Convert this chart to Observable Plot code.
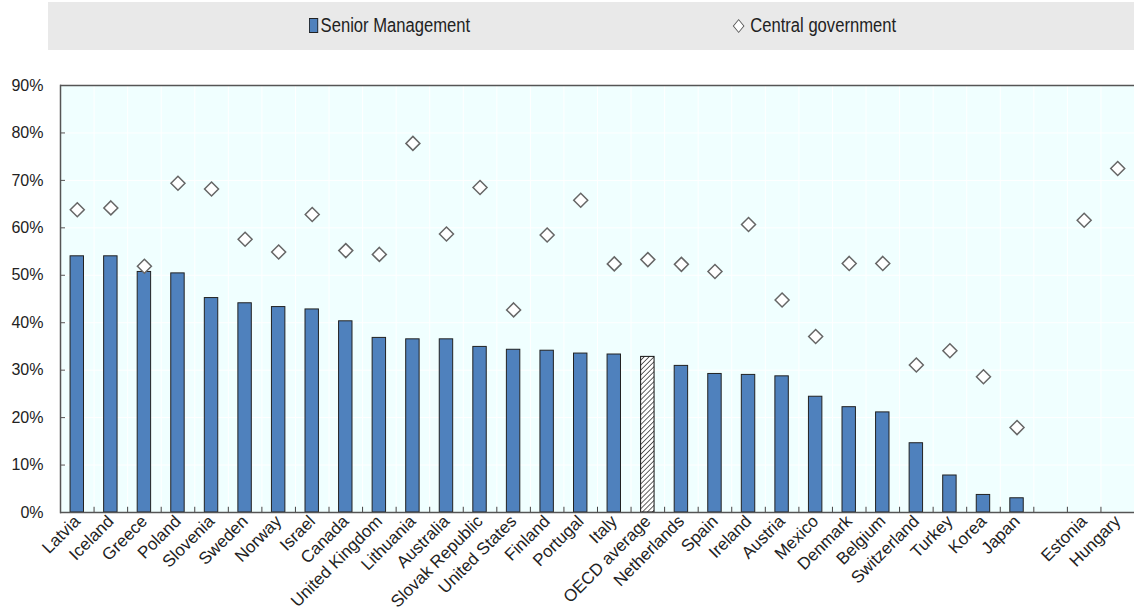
<!DOCTYPE html>
<html>
<head>
<meta charset="utf-8">
<script src="https://cdn.jsdelivr.net/npm/d3@7"></script>
<script src="https://cdn.jsdelivr.net/npm/@observablehq/plot@0.6"></script>
<style>
  body { margin: 0; background: #fff; font-family: "Liberation Sans", Arial, sans-serif; }
  #legend { position: absolute; left: 48px; top: 2px; width: 1086px; height: 48px; background: #e9e9e9; font-size: 20px; color: #222; }
  .item { position: absolute; top: 12px; display: flex; align-items: center; transform-origin: left center; transform: scaleX(0.83); }
  .sq { width: 9px; height: 13px; background: #4f81bd; border: 1px solid #222; margin-right: 3px; }
  .dm { width: 8px; height: 8px; border: 1.3px solid #555; transform: rotate(45deg); margin-right: 9px; margin-left: 3px; background: #fff; }
  #chart { position: absolute; left: 0; top: 50px; }
</style>
</head>
<body>
<div id="legend">
  <div class="item" style="left:261px"><div class="sq"></div><span>Senior Management</span></div>
  <div class="item" style="left:684px"><div class="dm"></div><span>Central government</span></div>
</div>
<div id="chart"></div>
<script>
const countries = ["Latvia","Iceland","Greece","Poland","Slovenia","Sweden","Norway","Israel","Canada","United Kingdom","Lithuania","Australia","Slovak Republic","United States","Finland","Portugal","Italy","OECD average","Netherlands","Spain","Ireland","Austria","Mexico","Denmark","Belgium","Switzerland","Turkey","Korea","Japan","Estonia","Hungary"];
const senior = [54.0,54.0,50.7,50.4,45.2,44.1,43.3,42.8,40.3,36.8,36.5,36.5,34.9,34.3,34.1,33.5,33.3,32.8,30.9,29.2,29.0,28.7,24.4,22.2,21.1,14.6,7.8,3.7,3.0,null,null];
const central = [63.8,64.2,51.9,69.4,68.2,57.6,54.9,62.8,55.2,54.4,77.8,58.7,68.5,42.7,58.5,65.8,52.4,53.3,52.3,50.8,60.7,44.8,37.1,52.5,52.5,31.1,34.1,28.6,17.9,61.6,72.5];
const yTicks = [0,10,20,30,40,50,60,70,80,90];
const gap = " ";
const domain = [...countries.slice(0, 29), gap, ...countries.slice(29)];

const data = countries.map((c, i) => ({country: c, senior: senior[i], central: central[i]}));
const bars = data.filter(d => d.senior != null && d.country !== "OECD average");
const avg = data.filter(d => d.country === "OECD average");

const W = 1134, H = 561, mL = 60, mR = 0, mT = 35, mB = 99;
const half = (W - mL - mR) / domain.length / 2;

const plot = Plot.plot({
  width: W, height: H,
  marginLeft: mL, marginRight: mR, marginTop: mT, marginBottom: mB,
  style: {fontFamily: '"Liberation Sans", Arial, sans-serif', fontSize: "16px", color: "#222", background: "transparent"},
  x: {domain, paddingInner: 0.6, paddingOuter: 0.3, round: false, label: null},
  y: {domain: [0, 90], label: null},
  marks: [
    Plot.frame({fill: "#f0ffff", stroke: null}),
    Plot.ruleY(yTicks, {stroke: "#fff", strokeWidth: 1}),
    Plot.ruleX(domain, {x: d => d, dx: half, stroke: "#fff", strokeWidth: 1}),
    Plot.barY(bars, {x: "country", y: "senior", fill: "#4f81bd", stroke: "#222", strokeWidth: 1}),
    Plot.barY(avg, {x: "country", y: "senior", fill: "url(#hatch)", stroke: "#111", strokeWidth: 1}),
    Plot.ruleX(domain, {x: d => d, dx: half, y1: 0, y2: 1.1, stroke: "#444", strokeWidth: 1}),
    Plot.dot(data, {x: "country", y: "central", symbol: "diamond2", r: 6.3, fill: "#fff", stroke: "#666", strokeWidth: 1.5}),
    Plot.ruleY([0], {stroke: "#555", strokeWidth: 1.5}),
    Plot.ruleY([90], {stroke: "#555", strokeWidth: 1.5}),
    Plot.frame({anchor: "left", stroke: "#555", strokeWidth: 1.5}),
    Plot.axisY(yTicks, {tickSize: -5, tickPadding: 22, tickFormat: d => d + "%", fontSize: 16, stroke: "#555"}),
    Plot.axisX({tickSize: 0, tickPadding: 6, tickRotate: -45, fontSize: 17})
  ]
});

const svg = d3.select(plot);
const defs = svg.insert("defs", ":first-child");
const pat = defs.append("pattern").attr("id", "hatch").attr("patternUnits", "userSpaceOnUse")
  .attr("width", 3.5).attr("height", 3.5).attr("patternTransform", "rotate(45)");
pat.append("rect").attr("width", 3.5).attr("height", 3.5).attr("fill", "#fff");
pat.append("line").attr("x1", 0).attr("y1", 0).attr("x2", 0).attr("y2", 3.5).attr("stroke", "#222").attr("stroke-width", 1.4);

document.getElementById("chart").appendChild(plot);
</script>
</body>
</html>
